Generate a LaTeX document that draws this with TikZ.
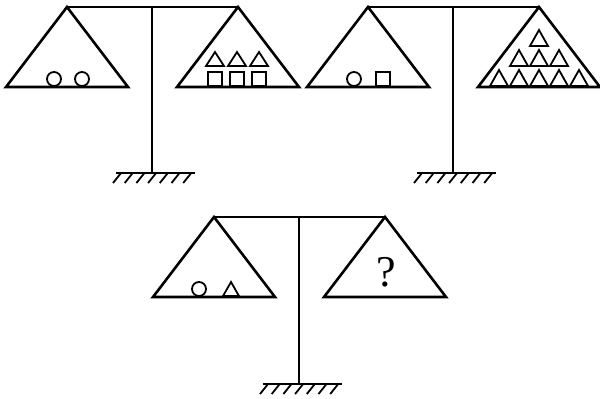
\documentclass[tikz,border=0pt]{standalone}
\usepackage{fontspec}
\setmainfont{Liberation Serif}
\begin{document}
\begin{tikzpicture}[
    x=1pt, y=-1pt,
    beam/.style={line width=2.6pt},
    pan/.style={line width=2.6pt, line join=miter},
    item/.style={line width=1.8pt},
    hatch/.style={line width=1.8pt},
  ]
  \useasboundingbox (0,0) rectangle (600,399);
  % three balances: pivot x / beam y / ground y
  \foreach \cx/\by/\gy in {152/7/173, 453/7/173, 299/217/384}{
    \draw[beam] (\cx-85,\by) -- (\cx+86,\by);
    \draw[beam] (\cx,\by) -- (\cx,\gy);
    \draw[beam] (\cx-36,\gy) -- (\cx+43,\gy);
    \foreach \k in {0,...,6}
      \draw[hatch] (\cx-31+\k*11.7,\gy) -- ++(-8,10);
    \foreach \px in {\cx-85, \cx+86}
      \draw[pan] (\px,\by) -- (\px-61,\by+80) -- (\px+61,\by+80) -- cycle;
  }
  % first balance
  \foreach \x in {54, 82}\draw[item] (\x,79) circle[radius=7pt];
  \foreach \x in {215, 237, 259}{
    \draw[item] (\x-7,72) rectangle (\x+7,86);
    \draw[item] (\x-9,66) -- (\x,52) -- (\x+9,66) -- cycle;}
  % second balance
  \draw[item] (354,79) circle[radius=7pt];
  \draw[item] (376,72) rectangle (390,86);
  \foreach \x/\y in {499/86, 519/86, 539/86, 559/86, 579/86,
                     519/66, 539/66, 559/66, 539/46}
    \draw[item] (\x-9,\y) -- (\x,\y-16) -- (\x+9,\y) -- cycle;
  % third balance
  \draw[item] (199,289) circle[radius=7pt];
  \draw[item] (223,296) -- (231,282) -- (239,296) -- cycle;
  \node[font=\fontsize{44}{46}\selectfont, inner sep=0pt] (qmark) at (386,272) {?};
\end{tikzpicture}
\end{document}
